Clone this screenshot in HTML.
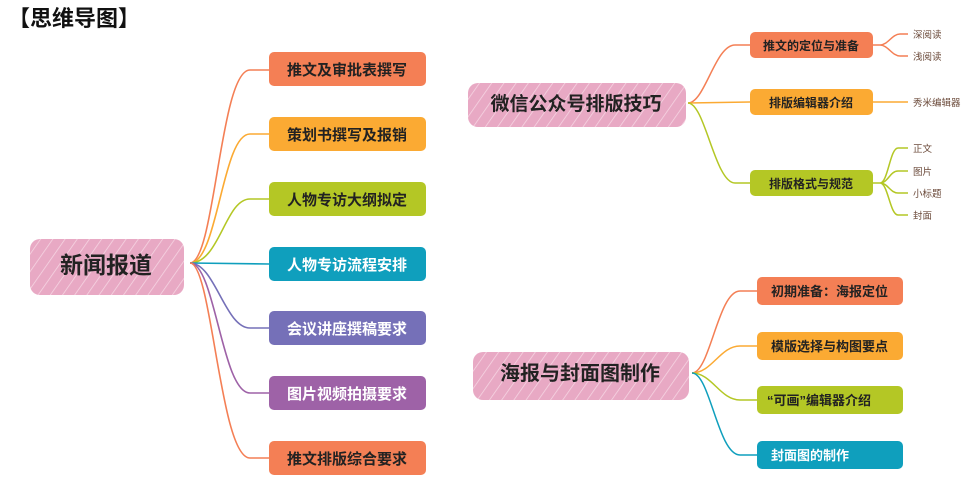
<!DOCTYPE html>
<html><head><meta charset="utf-8"><style>
html,body{margin:0;padding:0;background:#fff;}
svg{display:block;}
text{font-family:"Liberation Sans","Noto Sans CJK SC",sans-serif;}
</style></head><body>
<svg width="976" height="484" viewBox="0 0 976 484" xmlns="http://www.w3.org/2000/svg">
<defs>
<pattern id="hatch" width="10" height="10" patternUnits="userSpaceOnUse" patternTransform="rotate(35)">
<rect width="10" height="10" fill="#e8a9c4"/>
<line x1="0" y1="0" x2="0" y2="10" stroke="#f6d7e4" stroke-width="1.5"/>
</pattern>
</defs>
<text x="8" y="26" font-size="22" font-weight="bold" fill="#111">【思维导图】</text>

<!-- left root -->
<rect x="30" y="239" width="154" height="56" rx="10" fill="url(#hatch)"/>
<text x="106" y="273" font-size="23" font-weight="bold" fill="#222" text-anchor="middle">新闻报道</text>
<g fill="none" stroke-width="1.6">
<path d="M190 263 C215 263 220 70 250 70 L269 70" stroke="#f47f55"/>
<path d="M190 263 C218 263 222 134 250 134 L269 134" stroke="#fbaa33"/>
<path d="M190 263 C220 263 225 199 250 199 L269 199" stroke="#b4c725"/>
<path d="M190 263 L269 264" stroke="#0f9fbd"/>
<path d="M190 263 C215 263 225 328 250 328 L269 328" stroke="#7570b8"/>
<path d="M190 263 C215 263 222 393 250 393 L269 393" stroke="#9e62a7"/>
<path d="M190 263 C212 263 220 458 250 458 L269 458" stroke="#f47f55"/>
</g>
<g font-size="15" font-weight="bold" text-anchor="middle">
<rect x="269" y="52" width="157" height="34" rx="5" fill="#f47f55"/><text x="347" y="75" fill="#222">推文及审批表撰写</text>
<rect x="269" y="117" width="157" height="34" rx="5" fill="#fbaa33"/><text x="347" y="140" fill="#222">策划书撰写及报销</text>
<rect x="269" y="182" width="157" height="34" rx="5" fill="#b4c725"/><text x="347" y="205" fill="#222">人物专访大纲拟定</text>
<rect x="269" y="247" width="157" height="34" rx="5" fill="#0f9fbd"/><text x="347" y="270" fill="#fff">人物专访流程安排</text>
<rect x="269" y="311" width="157" height="34" rx="5" fill="#7570b8"/><text x="347" y="334" fill="#fff">会议讲座撰稿要求</text>
<rect x="269" y="376" width="157" height="34" rx="5" fill="#9e62a7"/><text x="347" y="399" fill="#fff">图片视频拍摄要求</text>
<rect x="269" y="441" width="157" height="34" rx="5" fill="#f47f55"/><text x="347" y="464" fill="#222">推文排版综合要求</text>
</g>

<!-- top right root -->
<rect x="468" y="83" width="218" height="44" rx="10" fill="url(#hatch)"/>
<text x="576" y="110" font-size="19" font-weight="bold" fill="#222" text-anchor="middle">微信公众号排版技巧</text>
<g fill="none" stroke-width="1.5">
<path d="M688 103 C705 103 715 45 735 45 L750 45" stroke="#f47f55"/>
<path d="M688 103 L750 102" stroke="#fbaa33"/>
<path d="M688 103 C705 103 715 183 735 183 L750 183" stroke="#b4c725"/>
<path d="M873 45 L880 45 C888 45 892 34 900 34 L908 34 M880 45 C888 45 892 56 900 56 L908 56" stroke="#f47f55"/>
<path d="M873 102 L908 102" stroke="#fbaa33"/>
<path d="M873 183 L880 183 C888 183 890 148 898 148 L908 148 M880 183 C888 183 890 171 898 171 L908 171 M880 183 C888 183 890 193 898 193 L908 193 M880 183 C888 183 890 215 898 215 L908 215" stroke="#b4c725"/>
</g>
<g font-size="12" font-weight="bold" text-anchor="middle" fill="#222">
<rect x="750" y="32" width="123" height="26" rx="5" fill="#f47f55"/><text x="811" y="50">推文的定位与准备</text>
<rect x="750" y="89" width="123" height="26" rx="5" fill="#fbaa33"/><text x="811" y="107">排版编辑器介绍</text>
<rect x="750" y="170" width="123" height="26" rx="5" fill="#b4c725"/><text x="811" y="188">排版格式与规范</text>
</g>
<g font-size="9.5" fill="#6b4a3a">
<text x="913" y="38">深阅读</text>
<text x="913" y="60">浅阅读</text>
<text x="913" y="106">秀米编辑器</text>
<text x="913" y="152">正文</text>
<text x="913" y="175">图片</text>
<text x="913" y="197">小标题</text>
<text x="913" y="219">封面</text>
</g>

<!-- bottom right root -->
<rect x="473" y="352" width="216" height="48" rx="10" fill="url(#hatch)"/>
<text x="580" y="380" font-size="20" font-weight="bold" fill="#222" text-anchor="middle">海报与封面图制作</text>
<g fill="none" stroke-width="1.5">
<path d="M692 373 C710 373 718 291 740 291 L757 291" stroke="#f47f55"/>
<path d="M692 373 C712 373 720 346 740 346 L757 346" stroke="#fbaa33"/>
<path d="M692 373 C712 373 720 400 740 400 L757 400" stroke="#b4c725"/>
<path d="M692 373 C710 373 718 455 740 455 L757 455" stroke="#0f9fbd"/>
</g>
<g font-size="13" font-weight="bold" fill="#222">
<rect x="757" y="277" width="146" height="28" rx="5" fill="#f47f55"/><text x="771" y="296">初期准备：海报定位</text>
<rect x="757" y="332" width="146" height="28" rx="5" fill="#fbaa33"/><text x="771" y="351">模版选择与构图要点</text>
<rect x="757" y="386" width="146" height="28" rx="5" fill="#b4c725"/><text x="767" y="405">“可画”编辑器介绍</text>
<rect x="757" y="441" width="146" height="28" rx="5" fill="#0f9fbd"/><text x="771" y="460" fill="#fff">封面图的制作</text>
</g>
</svg>
</body></html>
